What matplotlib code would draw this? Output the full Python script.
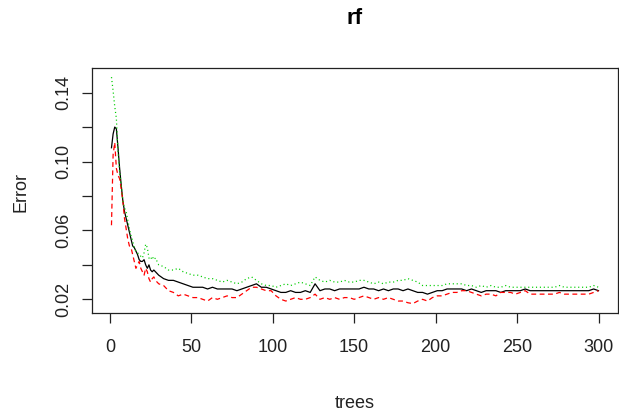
import matplotlib
matplotlib.use("Agg")
import matplotlib.pyplot as plt

# ---- data -------------------------------------------------------------
trees = list(range(1, 31)) + list(range(33, 301, 3))

oob_err = [
    0.108, 0.116, 0.120, 0.119, 0.108, 0.096, 0.086, 0.077, 0.071, 0.067,
    0.063, 0.059, 0.055, 0.051, 0.050, 0.048, 0.046, 0.043, 0.042, 0.042,
    0.043, 0.040, 0.038, 0.040, 0.037, 0.036, 0.037, 0.036, 0.035, 0.034,
    # t = 33 .. 300 step 3
    0.032, 0.031, 0.031, 0.030, 0.029, 0.028, 0.027, 0.027, 0.027, 0.026,
    0.027, 0.026, 0.026, 0.026, 0.026, 0.025, 0.026, 0.027, 0.028, 0.029,
    0.027, 0.027, 0.026, 0.025, 0.024, 0.024, 0.025, 0.024, 0.024, 0.025,
    0.024, 0.029, 0.025, 0.026, 0.026, 0.025, 0.026, 0.026, 0.026, 0.026,
    0.026, 0.027, 0.026, 0.026, 0.025, 0.026, 0.025, 0.026, 0.026, 0.025,
    0.026, 0.025, 0.024, 0.024, 0.023, 0.024, 0.025, 0.025, 0.026, 0.026,
    0.026, 0.026, 0.025, 0.026, 0.025, 0.024, 0.025, 0.025, 0.025, 0.024,
    0.025, 0.025, 0.025, 0.025, 0.026, 0.025, 0.025, 0.025, 0.025, 0.025,
    0.025, 0.025, 0.025, 0.025, 0.025, 0.025, 0.025, 0.025, 0.026, 0.025,
]

class1_err = [
    0.063, 0.104, 0.111, 0.096, 0.092, 0.090, 0.084, 0.077, 0.067, 0.061,
    0.055, 0.051, 0.050, 0.046, 0.042, 0.038, 0.040, 0.042, 0.038, 0.036,
    0.034, 0.038, 0.036, 0.032, 0.030, 0.032, 0.033, 0.031, 0.030, 0.029,
    0.028, 0.025, 0.024, 0.022, 0.023, 0.022, 0.021, 0.021, 0.020, 0.019,
    0.021, 0.020, 0.021, 0.022, 0.021, 0.021, 0.023, 0.025, 0.027, 0.027,
    0.026, 0.025, 0.025, 0.022, 0.020, 0.019, 0.020, 0.021, 0.020, 0.020,
    0.021, 0.023, 0.020, 0.021, 0.020, 0.021, 0.020, 0.021, 0.021, 0.020,
    0.021, 0.022, 0.021, 0.020, 0.021, 0.020, 0.021, 0.020, 0.019, 0.019,
    0.018, 0.0175, 0.019, 0.020, 0.019, 0.021, 0.022, 0.022, 0.023, 0.024,
    0.024, 0.025, 0.025, 0.024, 0.023, 0.022, 0.023, 0.023, 0.022, 0.024,
    0.024, 0.024, 0.023, 0.024, 0.025, 0.023, 0.023, 0.023, 0.023, 0.023,
    0.023, 0.024, 0.023, 0.023, 0.023, 0.023, 0.023, 0.023, 0.024, 0.025,
]

class2_err = [
    0.149, 0.141, 0.132, 0.125, 0.106, 0.094, 0.086, 0.077, 0.073, 0.071,
    0.066, 0.061, 0.057, 0.054, 0.050, 0.048, 0.047, 0.046, 0.045, 0.044,
    0.047, 0.052, 0.050, 0.044, 0.043, 0.045, 0.043, 0.044, 0.042, 0.040,
    0.039, 0.037, 0.037, 0.038, 0.036, 0.035, 0.034, 0.034, 0.033, 0.032,
    0.032, 0.031, 0.030, 0.031, 0.030, 0.029, 0.030, 0.032, 0.033, 0.031,
    0.029, 0.028, 0.028, 0.027, 0.028, 0.029, 0.028, 0.029, 0.030, 0.029,
    0.028, 0.033, 0.031, 0.030, 0.031, 0.030, 0.030, 0.031, 0.030, 0.030,
    0.031, 0.031, 0.030, 0.029, 0.030, 0.029, 0.030, 0.030, 0.031, 0.031,
    0.032, 0.031, 0.030, 0.028, 0.028, 0.028, 0.028, 0.028, 0.029, 0.029,
    0.029, 0.029, 0.028, 0.028, 0.027, 0.028, 0.027, 0.028, 0.027, 0.027,
    0.028, 0.027, 0.027, 0.027, 0.027, 0.027, 0.027, 0.027, 0.027, 0.027,
    0.027, 0.028, 0.027, 0.027, 0.027, 0.027, 0.027, 0.027, 0.028, 0.027,
]

x_ticks = [0, 50, 100, 150, 200, 250, 300]
y_ticks = [0.02, 0.04, 0.06, 0.08, 0.10, 0.12, 0.14]
y_tick_labels = ["0.02", "", "0.06", "", "0.10", "", "0.14"]

# ---- figure -----------------------------------------------------------
plt.rcParams["font.family"] = ["Liberation Sans", "DejaVu Sans"]
plt.rcParams["lines.scale_dashes"] = False

W, H = 619, 416
fig = plt.figure(figsize=(W / 100, H / 100), dpi=100)
ax = fig.add_axes([92 / W, 1 - 313 / H, (618 - 92) / W, (313 - 68) / H])

ax.plot(trees, oob_err, color="black", lw=0.9, linestyle="-")
ax.plot(trees, class1_err, color="#FF0000", lw=0.9, linestyle=(0, (3.5, 2.5)))
ax.plot(trees, class2_err, color="#00CD00", lw=0.9, linestyle=(0, (0.8, 2.0)))

ax.set_xlim(-10.96, 311.96)
ax.set_ylim(0.01205, 0.1543)

ax.set_xticks(x_ticks)
ax.set_xticklabels([str(v) for v in x_ticks])
ax.set_yticks(y_ticks)
ax.set_yticklabels(y_tick_labels, rotation=90, va="center")

for s in ax.spines.values():
    s.set_linewidth(0.9)
    s.set_color("#222222")

ax.tick_params(axis="both", direction="out", length=7.5, width=0.9,
               color="#222222", labelsize=13, labelcolor="#222222")
ax.tick_params(axis="x", pad=11)
ax.tick_params(axis="y", pad=6.5)

fig.text(355 / W, 1 - 18 / H, "rf", ha="center", va="center",
         fontsize=16, fontweight="bold")
fig.text(355 / W, 1 - 403 / H, "trees", ha="center", va="center",
         fontsize=13, color="#222222")
fig.text(21 / W, 1 - 192 / H, "Error", ha="center", va="center",
         rotation=90, fontsize=13, color="#222222")

fig.savefig("out.png", dpi=100)
